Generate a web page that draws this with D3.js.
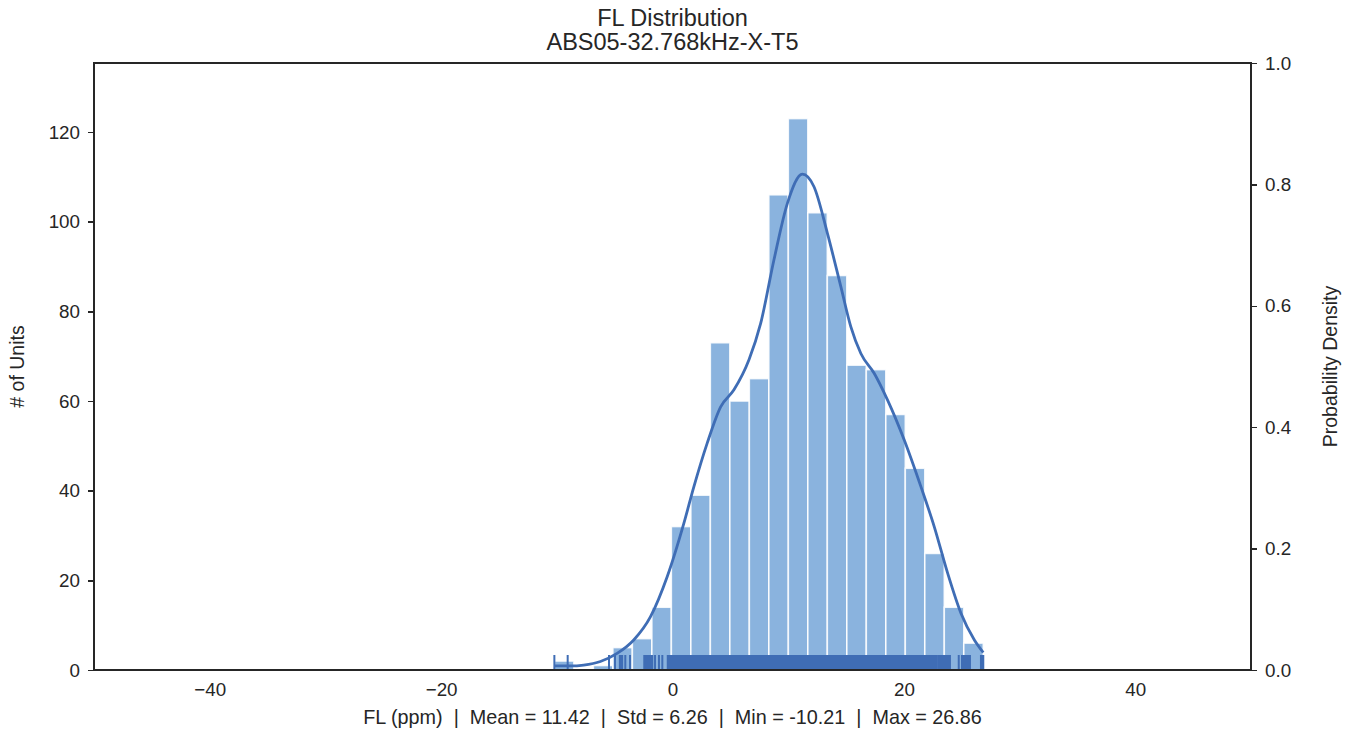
<!DOCTYPE html>
<html>
<head>
	<title>FL Distribution</title>
	<style>
	body { margin: 0; background: #fff; }
	.chart text {
		font-family: "Liberation Sans", Arial, sans-serif;
		fill: #262626;
	}
	.axis path, .axis line {
		stroke: #262626;
		stroke-width: 1.4;
		fill: none;
		shape-rendering: crispEdges;
	}
	.axis text { font-size: 18.8px; }
</style>
<script src="https://d3js.org/d3.v7.min.js"></script>
</head>
<body>
	<svg class="chart"></svg>
	<script>
		// histogram: 22 bins between min and max
		var binEdges = [-10.21, -8.525, -6.840, -5.155, -3.470, -1.785, -0.100, 1.585, 3.270, 4.955, 6.640,
			8.325, 10.010, 11.695, 13.380, 15.065, 16.750, 18.435, 20.120, 21.805, 23.490, 25.175, 26.86];
		var binCounts = [2, 0, 1, 5, 7, 14, 32, 39, 73, 60, 65, 106, 123, 102, 88, 68, 67, 57, 45, 26, 14, 6];

		// kde curve (x in ppm, y in # of units)
		var kdeX = [-10.21, -8.83, -7.68, -6.23, -4.79, -3.35, -1.90, -0.46, 0.98, 1.85, 3.0, 4.16, 5.31, 6.61,
			7.62, 8.77, 9.93, 11.23, 12.23, 13.39, 14.55, 15.41, 16.28, 17.43, 18.59, 20.03, 21.47, 22.62,
			23.78, 24.94, 26.09, 26.86];
		var kdeY = [0.9, 0.9, 1.1, 1.9, 3.7, 6.7, 11.9, 20.8, 32.7, 40.9, 50.6, 58.7, 62.5, 69.2,
			77.3, 91.5, 104.1, 110.6, 107.8, 97.4, 85.5, 76.6, 70.6, 66.2, 60.2, 51.3, 40.9, 32.0,
			21.6, 12.6, 6.7, 3.9];

		// rug: single visible ticks and solid stretches where ticks merge
		var rugTicks = [-10.21, -9.06, -5.49, -4.97, -4.08, -3.67, -1.51, -1.17, -0.88, 24.74];
		var rugBands = [[-4.55, -4.35], [-2.44, -1.75], [-0.41, 22.83], [22.97, 23.98], [25.02, 25.71], [26.66, 26.86]];

		var xDomain = [-50, 50];
		var countMax = 135.4;
		var xTicks = [-40, -20, 0, 20, 40];
		var yTicks = [0, 20, 40, 60, 80, 100, 120];
		var densityTicks = [0, 0.2, 0.4, 0.6, 0.8, 1.0];

		var title1 = "FL Distribution";
		var title2 = "ABS05-32.768kHz-X-T5";
		var xLabel = "FL (ppm)  |  Mean = 11.42  |  Std = 6.26  |  Min = -10.21  |  Max = 26.86";

		var W = 1356, H = 732;
		var margin = {top: 63, right: 105, bottom: 62, left: 94}
		, width = W - margin.left - margin.right
		, height = H - margin.top - margin.bottom;

		var barColor = "#8ab3de", lineColor = "#3f6db5";

		var x = d3.scaleLinear().domain(xDomain).range([0, width]);
		var y = d3.scaleLinear().domain([0, countMax]).range([height, 0]);
		var yR = d3.scaleLinear().domain([0, 1]).range([height, 0]);

		var svg = d3.select(".chart").attr("width", W).attr("height", H);
		var main = svg.append("g")
			.attr("transform", "translate(" + margin.left + "," + margin.top + ")");

		// bars
		var bins = binCounts.map(function(c, i) { return {x0: binEdges[i], x1: binEdges[i + 1], n: c}; });
		main.append("g").selectAll("rect")
			.data(bins.filter(function(d) { return d.n > 0; }))
			.enter().append("rect")
			.attr("x", function(d) { return x(d.x0); })
			.attr("y", function(d) { return y(d.n); })
			.attr("width", function(d) { return x(d.x1) - x(d.x0); })
			.attr("height", function(d) { return y(0) - y(d.n); })
			.attr("fill", barColor)
			.attr("stroke", "#fff")
			.attr("stroke-opacity", 0.85)
			.attr("stroke-width", 1.6);

		// rug
		var rugH = 15;
		var rug = main.append("g");
		rug.selectAll("line")
			.data(rugTicks)
			.enter().append("line")
			.attr("x1", function(d) { return x(d); })
			.attr("x2", function(d) { return x(d); })
			.attr("y1", height)
			.attr("y2", height - rugH)
			.attr("stroke", lineColor)
			.attr("stroke-width", 2);
		rug.selectAll("rect")
			.data(rugBands)
			.enter().append("rect")
			.attr("x", function(d) { return x(d[0]) - 1; })
			.attr("y", height - rugH)
			.attr("width", function(d) { return x(d[1]) - x(d[0]) + 2; })
			.attr("height", rugH)
			.attr("fill", lineColor);

		// kde
		var line = d3.line()
			.x(function(d, i) { return x(kdeX[i]); })
			.y(function(d) { return y(d); })
			.curve(d3.curveMonotoneX);
		main.append("path")
			.datum(kdeY)
			.attr("d", line)
			.attr("fill", "none")
			.attr("stroke", lineColor)
			.attr("stroke-width", 2.8);

		// axes
		var xAxis = main.append("g")
			.attr("class", "axis")
			.attr("transform", "translate(0," + height + ")")
			.call(d3.axisBottom(x).tickValues(xTicks).tickSize(0).tickPadding(13)
				.tickFormat(function(d) { return d < 0 ? "\u2212" + Math.abs(d) : d; }));
		xAxis.select(".domain").remove();

		var yAxis = main.append("g")
			.attr("class", "axis")
			.call(d3.axisLeft(y).tickValues(yTicks).tickSize(6).tickPadding(8).tickFormat(d3.format("d")));
		yAxis.select(".domain").remove();

		var yRAxis = main.append("g")
			.attr("class", "axis")
			.attr("transform", "translate(" + width + ",0)")
			.call(d3.axisRight(yR).tickValues(densityTicks).tickSize(6).tickPadding(8).tickFormat(d3.format(".1f")));
		yRAxis.select(".domain").remove();

		// frame
		main.append("rect")
			.attr("width", width)
			.attr("height", height)
			.attr("fill", "none")
			.attr("stroke", "#262626")
			.attr("stroke-width", 1.4)
			.attr("shape-rendering", "crispEdges");

		// labels
		svg.append("text")
			.attr("x", margin.left + width / 2)
			.attr("y", 26)
			.attr("text-anchor", "middle")
			.style("font-size", "23.5px")
			.text(title1);
		svg.append("text")
			.attr("x", margin.left + width / 2)
			.attr("y", 50)
			.attr("text-anchor", "middle")
			.style("font-size", "23.5px")
			.text(title2);
		svg.append("text")
			.attr("x", margin.left + width / 2)
			.attr("y", 724)
			.attr("text-anchor", "middle")
			.style("font-size", "19.8px")
			.style("white-space", "pre")
			.text(xLabel);
		svg.append("text")
			.attr("transform", "translate(24," + (margin.top + height / 2) + ") rotate(-90)")
			.attr("text-anchor", "middle")
			.style("font-size", "19.5px")
			.text("# of Units");
		svg.append("text")
			.attr("transform", "translate(1337," + (margin.top + height / 2) + ") rotate(-90)")
			.attr("text-anchor", "middle")
			.style("font-size", "19.5px")
			.text("Probability Density");
	</script>
</body>
</html>
